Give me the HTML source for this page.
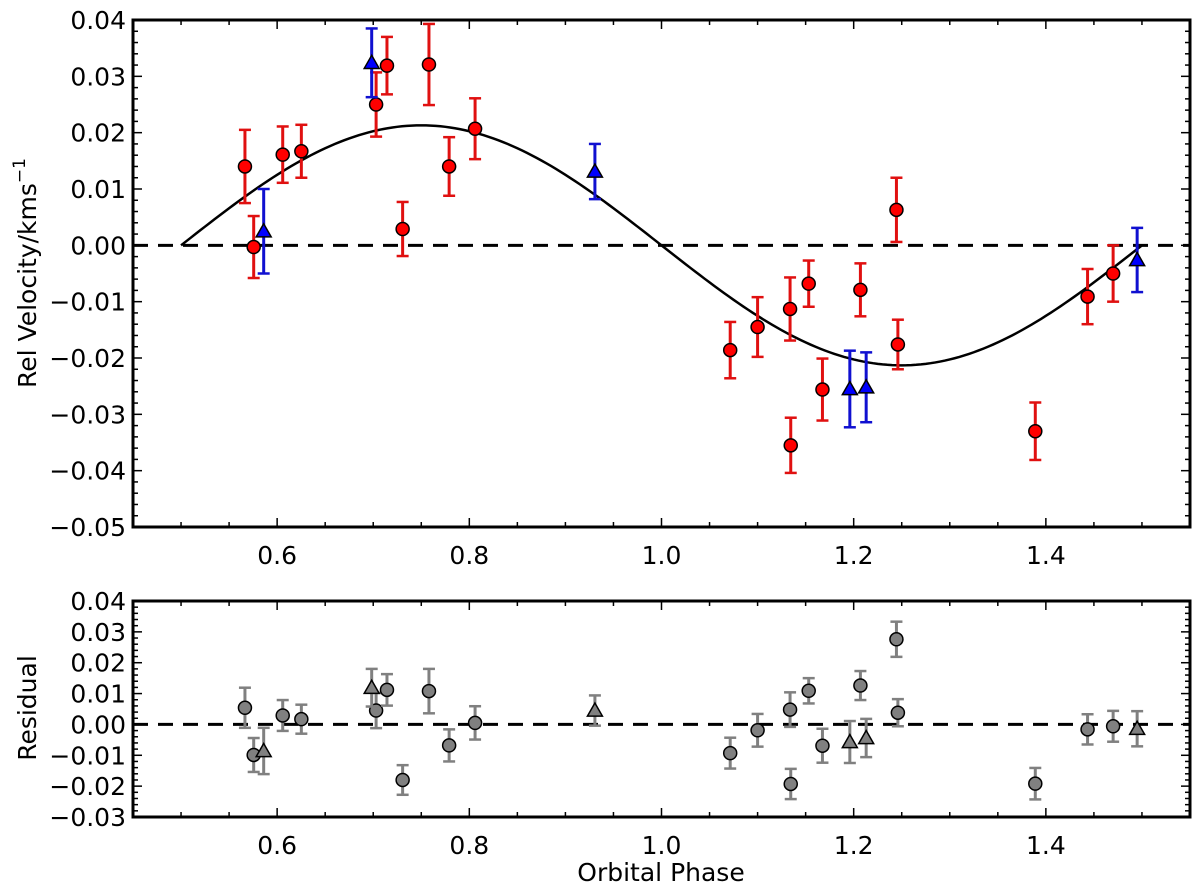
<!DOCTYPE html>
<html><head><meta charset="utf-8"><style>
html,body{margin:0;padding:0;background:#fff;}
svg{display:block;font-family:"DejaVu Sans","Liberation Sans",sans-serif;}
</style></head><body>
<svg id="chart" width="1200" height="890" viewBox="0 0 1200 890" xmlns="http://www.w3.org/2000/svg"></svg>
<script>
// ---- data ----
const redPhase = [0.5665,0.5756,0.6058,0.6252,0.703,0.7143,0.7306,0.758,0.779,0.806,1.0715,1.100,1.1338,1.1345,1.1532,1.1675,1.207,1.2445,1.246,1.389,1.4434,1.470];
const redVel   = [0.0140,-0.0003,0.0161,0.0167,0.0250,0.0319,0.0029,0.0321,0.0140,0.0207,-0.0186,-0.0145,-0.0113,-0.0355,-0.0068,-0.0256,-0.0079,0.0063,-0.0176,-0.0330,-0.0091,-0.0050];
const redErr   = [0.0065,0.0055,0.0050,0.0047,0.0057,0.0051,0.0048,0.0072,0.0052,0.0054,0.0050,0.0053,0.0056,0.0049,0.0041,0.0055,0.0047,0.0057,0.0044,0.0051,0.0049,0.0050];
const redRes   = [0.0054,-0.0099,0.0029,0.0017,0.0045,0.0112,-0.0180,0.0108,-0.0068,0.0005,-0.0093,-0.0019,0.0048,-0.0193,0.0109,-0.0069,0.0126,0.0276,0.0038,-0.0192,-0.0016,-0.0006];
const bluePhase = [0.586,0.6984,0.9307,1.196,1.213,1.495];
const blueVel   = [0.0025,0.0324,0.0131,-0.0255,-0.0252,-0.0026];
const blueErr   = [0.0075,0.0061,0.0049,0.0068,0.0062,0.0057];
const blueRes   = [-0.0086,0.0119,0.0045,-0.0057,-0.0044,-0.0014];
const modelAmp = 0.0213;
const modelPhase0 = 0.5;
const xTicks = [0.6,0.8,1.0,1.2,1.4];
const xTickLabels = ["0.6","0.8","1.0","1.2","1.4"];
const topYTicks = [0.04,0.03,0.02,0.01,0.00,-0.01,-0.02,-0.03,-0.04,-0.05];
const topYLabels = ["0.04","0.03","0.02","0.01","0.00","\u22120.01","\u22120.02","\u22120.03","\u22120.04","\u22120.05"];
const botYTicks = [0.04,0.03,0.02,0.01,0.00,-0.01,-0.02,-0.03];
const botYLabels = ["0.04","0.03","0.02","0.01","0.00","\u22120.01","\u22120.02","\u22120.03"];

// ---- geometry ----
const NS = "http://www.w3.org/2000/svg";
const svgEl = document.getElementById('chart');
const X0 = 133, X1 = 1190, XMIN = 0.45, XMAX = 1.55;
const xs = v => X0 + (v - XMIN) / (XMAX - XMIN) * (X1 - X0);
const topPanel = {y0:20, y1:527, ymin:-0.05, ymax:0.04};
const botPanel = {y0:601, y1:817, ymin:-0.03, ymax:0.04};
const ysF = p => v => p.y0 + (p.ymax - v) / (p.ymax - p.ymin) * (p.y1 - p.y0);
const yT = ysF(topPanel), yB = ysF(botPanel);

function mk(tag, attrs, parent){
  const e = document.createElementNS(NS, tag);
  for (const k in attrs) e.setAttribute(k, attrs[k]);
  (parent || svgEl).appendChild(e);
  return e;
}

function axes(p, ys, yTicks, yLabels, name){
  const g = mk('g', {});
  
  
  for (let i = 0; i <= 20; i++) {
    const v = 0.5 + i*0.05;
    const x = xs(v);
    const major = (i % 4 === 2);
    const L = major ? 9 : 5;
    mk('line', {x1:x, x2:x, y1:p.y1, y2:p.y1-L, stroke:'#000','stroke-width':1.5}, g);
    mk('line', {x1:x, x2:x, y1:p.y0, y2:p.y0+L, stroke:'#000','stroke-width':1.5}, g);
  }
  const n = Math.round((p.ymax - p.ymin) / 0.002);
  for (let i = 0; i <= n; i++) {
    const v = p.ymin + i*0.002, y = ys(v);
    const major = i % 5 === 0;
    const L = major ? 9 : 5;
    mk('line', {x1:X0, x2:X0+L, y1:y, y2:y, stroke:'#000','stroke-width':1.5}, g);
    mk('line', {x1:X1, x2:X1-L, y1:y, y2:y, stroke:'#000','stroke-width':1.5}, g);
  }
  yTicks.forEach((v, i) => {
    const t = mk('text', {x:126, y:ys(v)+9, 'text-anchor':'end', 'font-size':25, fill:'#000'}, g);
    t.textContent = yLabels[i];
    
    
  });
  const r = mk('rect', {x:X0, y:p.y0, width:X1-X0, height:p.y1-p.y0, fill:'none', stroke:'#000','stroke-width':3});
  
  
  const z = mk('line', {x1:X0, x2:X1, y1:ys(0), y2:ys(0), stroke:'#000','stroke-width':3,'stroke-dasharray':'15,10'});
  
  
}

function errbar(x, ylo, yhi, color, name){
  const g = mk('g', {});
  
  
  mk('line', {x1:x, x2:x, y1:ylo, y2:yhi, stroke:color, 'stroke-width':3}, g);
  mk('line', {x1:x-6, x2:x+6, y1:ylo, y2:ylo, stroke:color, 'stroke-width':2.5}, g);
  mk('line', {x1:x-6, x2:x+6, y1:yhi, y2:yhi, stroke:color, 'stroke-width':2.5}, g);
}
function circle(x, y, fill, name){
  const c = mk('circle', {cx:x, cy:y, r:6.5, fill:fill, stroke:'#000', 'stroke-width':1.5});
  
  
}
function tri(x, y, fill, name){
  const s = 7.5;
  const t = mk('polygon', {points:`${x},${y-s} ${x-s},${y+s*0.75} ${x+s},${y+s*0.75}`, fill:fill, stroke:'#000','stroke-width':1.5});
  
  
}

axes(topPanel, yT, topYTicks, topYLabels, 'velocity-panel');
axes(botPanel, yB, botYTicks, botYLabels, 'residual-panel');

[topPanel, botPanel].forEach(p => {
  xTicks.forEach((v, i) => {
    const t = mk('text', {x:xs(v), y:p.y1+37, 'text-anchor':'middle', 'font-size':25, fill:'#000'});
    t.textContent = xTickLabels[i];
    
    
  });
});

let d = '';
for (let i = 0; i <= 200; i++) {
  const ph = 0.5 + i/200;
  const v = modelAmp * Math.sin(2*Math.PI*(ph - modelPhase0));
  d += (i ? 'L' : 'M') + xs(ph).toFixed(2) + ',' + yT(v).toFixed(2);
}
const curve = mk('path', {d:d, fill:'none', stroke:'#000', 'stroke-width':2.5});



redPhase.forEach((ph, i) => {
  const x = xs(ph);
  errbar(x, yT(redVel[i]-redErr[i]), yT(redVel[i]+redErr[i]), '#e01010', 'red-error-bar');
  circle(x, yT(redVel[i]), '#ff0000', 'red-velocity-point');
});
bluePhase.forEach((ph, i) => {
  const x = xs(ph);
  errbar(x, yT(blueVel[i]-blueErr[i]), yT(blueVel[i]+blueErr[i]), '#1010d0', 'blue-error-bar');
  tri(x, yT(blueVel[i]), '#0000ff', 'blue-velocity-point');
});
redPhase.forEach((ph, i) => {
  const x = xs(ph);
  errbar(x, yB(redRes[i]-redErr[i]), yB(redRes[i]+redErr[i]), '#808080', 'residual-error-bar');
  circle(x, yB(redRes[i]), '#808080', 'residual-circle-point');
});
bluePhase.forEach((ph, i) => {
  const x = xs(ph);
  errbar(x, yB(blueRes[i]-blueErr[i]), yB(blueRes[i]+blueErr[i]), '#808080', 'residual-error-bar');
  tri(x, yB(blueRes[i]), '#808080', 'residual-triangle-point');
});

const yl1 = mk('text', {x:0, y:0, 'text-anchor':'middle', 'font-size':25, fill:'#000', transform:'translate(36,273) rotate(-90)'});


yl1.textContent = 'Rel Velocity/kms';
const sup = mk('tspan', {dy:-11, 'font-size':17}, yl1);
sup.textContent = '\u22121';
const yl2 = mk('text', {x:0, y:0, 'text-anchor':'middle', 'font-size':25, fill:'#000', transform:'translate(36,708) rotate(-90)'});


yl2.textContent = 'Residual';
const xl = mk('text', {x:661, y:881, 'text-anchor':'middle', 'font-size':25, fill:'#000'});


xl.textContent = 'Orbital Phase';
</script>
</body></html>
